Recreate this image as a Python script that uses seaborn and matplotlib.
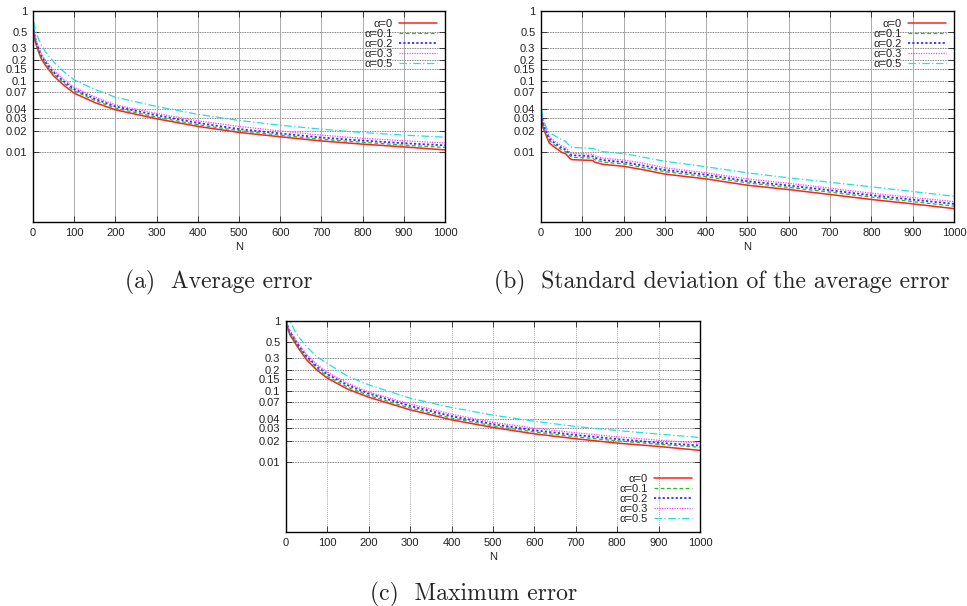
import numpy as np
import pandas as pd
import matplotlib
matplotlib.use("Agg")
import matplotlib.pyplot as plt
import matplotlib.ticker as mticker
import seaborn as sns

# --- data ---
alphas = ["α=0", "α=0.1", "α=0.2", "α=0.3", "α=0.5"]

# (a) average error
n_avg = [2, 5, 10, 20, 30, 50, 75, 100, 150, 200, 300, 400, 500, 600, 700, 800, 900, 1000]
avg_a0 = [0.50, 0.38, 0.30, 0.21, 0.17, 0.12, 0.088, 0.068, 0.050, 0.0394, 0.0294, 0.0229, 0.0188, 0.0163, 0.0142, 0.0128, 0.0117, 0.0106]
avg_a1 = [0.52, 0.40, 0.315, 0.222, 0.18, 0.128, 0.094, 0.0733, 0.0535, 0.0416, 0.031, 0.0242, 0.0199, 0.0172, 0.015, 0.0136, 0.0124, 0.0115]
avg_a2 = [0.54, 0.42, 0.33, 0.235, 0.19, 0.135, 0.10, 0.0776, 0.0565, 0.044, 0.033, 0.0257, 0.0210, 0.0182, 0.0159, 0.0144, 0.0132, 0.0123]
avg_a3 = [0.56, 0.44, 0.35, 0.25, 0.20, 0.143, 0.106, 0.0825, 0.060, 0.0464, 0.0350, 0.0275, 0.0229, 0.0197, 0.0172, 0.0155, 0.0143, 0.0133]
avg_a5 = [0.70, 0.56, 0.45, 0.33, 0.265, 0.19, 0.137, 0.105, 0.077, 0.0596, 0.044, 0.034, 0.0278, 0.0238, 0.0209, 0.0187, 0.0172, 0.0161]

# (b) standard deviation of the average error
n_std = [1, 5, 10, 20, 30, 40, 50, 60, 70, 75, 125, 130, 150, 200, 250, 300, 400, 500, 600, 700, 800, 900, 1000]
std_a0 = [0.030, 0.022, 0.0184, 0.0133, 0.0119, 0.0108, 0.0098, 0.0093, 0.0080, 0.0077, 0.0075, 0.0071, 0.0066, 0.0062, 0.0055, 0.0048, 0.0041, 0.00333, 0.00289, 0.00246, 0.00209, 0.00181, 0.00155]
std_a1 = [0.032, 0.024, 0.0198, 0.0144, 0.0128, 0.0117, 0.0106, 0.0100, 0.0087, 0.0083, 0.0081, 0.0077, 0.0071, 0.0067, 0.0059, 0.0052, 0.0044, 0.0036, 0.0031, 0.00266, 0.00226, 0.00195, 0.00168]
std_a2 = [0.034, 0.025, 0.021, 0.0153, 0.0137, 0.0124, 0.0113, 0.0107, 0.0092, 0.0089, 0.0086, 0.0082, 0.0076, 0.0071, 0.0063, 0.0055, 0.0047, 0.0038, 0.0033, 0.00283, 0.0024, 0.00208, 0.00181]
std_a3 = [0.036, 0.027, 0.0226, 0.0164, 0.0146, 0.0133, 0.0121, 0.0114, 0.0098, 0.0095, 0.0092, 0.0087, 0.0081, 0.0076, 0.0068, 0.0059, 0.0050, 0.0041, 0.00355, 0.00303, 0.00257, 0.00223, 0.00195]
std_a5 = [0.040, 0.030, 0.0241, 0.0184, 0.0174, 0.016, 0.0148, 0.0140, 0.0119, 0.0115, 0.0111, 0.0109, 0.0100, 0.0094, 0.0083, 0.0073, 0.0061, 0.0050, 0.00424, 0.00367, 0.00316, 0.00271, 0.00232]

# (c) maximum error
n_max = [1, 5, 10, 20, 30, 50, 75, 100, 150, 200, 300, 400, 500, 600, 700, 800, 900, 1000]
max_a0 = [0.95, 0.75, 0.63, 0.51, 0.41, 0.28, 0.20, 0.154, 0.107, 0.0826, 0.0547, 0.0394, 0.0307, 0.0249, 0.0212, 0.0184, 0.0165, 0.0145]
max_a1 = [0.97, 0.78, 0.66, 0.54, 0.43, 0.30, 0.213, 0.163, 0.114, 0.0873, 0.058, 0.0418, 0.0324, 0.0265, 0.0226, 0.0198, 0.0177, 0.0161]
max_a2 = [1.0, 0.81, 0.69, 0.56, 0.45, 0.315, 0.225, 0.175, 0.122, 0.0932, 0.062, 0.0445, 0.0342, 0.0280, 0.0240, 0.0210, 0.0186, 0.0170]
max_a3 = [1.02, 0.84, 0.72, 0.59, 0.48, 0.335, 0.24, 0.187, 0.130, 0.098, 0.066, 0.0475, 0.0364, 0.0300, 0.0258, 0.0226, 0.0202, 0.0184]
max_a5 = [1.3, 1.15, 1.0, 0.745, 0.6, 0.43, 0.31, 0.25, 0.163, 0.124, 0.080, 0.059, 0.046, 0.0377, 0.0317, 0.0278, 0.0247, 0.0221]

ytick_vals = [1, 0.5, 0.3, 0.2, 0.15, 0.1, 0.07, 0.04, 0.03, 0.02, 0.01]
ytick_labels = ["1", "0.5", "0.3", "0.2", "0.15", "0.1", "0.07", "0.04", "0.03", "0.02", "0.01"]
xtick_vals = list(range(0, 1001, 100))

colors = ["#ff2020", "#20c020", "#3030ff", "#ff40ff", "#20e0e0"]
dashes = ["-", (0, (3, 2)), (0, (1.2, 1.2)), (0, (1, 1)), (0, (6, 2, 1, 2))]
widths = [1.1, 0.9, 1.3, 0.9, 0.9]

sns.set_style("ticks")
plt.rcParams['font.family'] = ['Liberation Sans', 'DejaVu Sans']

fig = plt.figure(figsize=(9.67, 6.06), dpi=100)
ax_a = fig.add_axes([0.0341, 0.6337, 0.426, 0.348])
ax_b = fig.add_axes([0.5595, 0.6337, 0.427, 0.348])
ax_c = fig.add_axes([0.2958, 0.1221, 0.428, 0.348])


def draw_panel(ax, n, series, legend_loc, vgrid_style):
    for lab, vals, c, ls, lw in zip(alphas, series, colors, dashes, widths):
        sns.lineplot(x=n, y=vals, ax=ax, color=c, linestyle=ls, linewidth=lw, label=lab)
    ax.set_yscale("log")
    ax.set_ylim(0.001, 1)
    ax.set_xlim(0, 1000)
    ax.yaxis.set_major_locator(mticker.FixedLocator(ytick_vals))
    ax.yaxis.set_major_formatter(mticker.FixedFormatter(ytick_labels))
    ax.yaxis.set_minor_locator(mticker.NullLocator())
    ax.set_xticks(xtick_vals)
    ax.tick_params(direction="in", top=True, right=True, labelsize=8, length=4, width=0.6,
                   pad=4, labelcolor="#222222")
    ax.set_xlabel("N", fontsize=8, labelpad=3, color="#222222")
    ax.set_ylabel("")
    for yv in ytick_vals:
        ax.axhline(yv, color="#555555", linestyle=(0, (1, 1)), linewidth=0.6, zorder=0)
    for xv in xtick_vals[1:-1]:
        ax.axvline(xv, color="#aaaaaa", linestyle=vgrid_style, linewidth=0.7, zorder=0)
    for sp in ax.spines.values():
        sp.set_linewidth(1.0)
        sp.set_color("black")
    leg = ax.legend(loc=legend_loc, frameon=False, markerfirst=False, fontsize=8,
                    handlelength=3.4, labelspacing=0.0, handletextpad=0.6,
                    borderaxespad=0.3)
    for t in leg.get_texts():
        t.set_color("#222222")
    return leg


draw_panel(ax_a, n_avg, [avg_a0, avg_a1, avg_a2, avg_a3, avg_a5], "upper right", "-")
draw_panel(ax_b, n_std, [std_a0, std_a1, std_a2, std_a3, std_a5], "upper right", "-")
draw_panel(ax_c, n_max, [max_a0, max_a1, max_a2, max_a3, max_a5], "lower right", (0, (1, 1)))

cap_font = dict(family="cmr10", fontsize=17, ha="left", va="center")
fig.text(125 / 967, 1 - 282 / 606, "(a)  Average error", **cap_font)
fig.text(494 / 967, 1 - 282 / 606, "(b)  Standard deviation of the average error", **cap_font)
fig.text(370 / 967, 1 - 594 / 606, "(c)  Maximum error", **cap_font)

fig.savefig("out.png", dpi=100)
